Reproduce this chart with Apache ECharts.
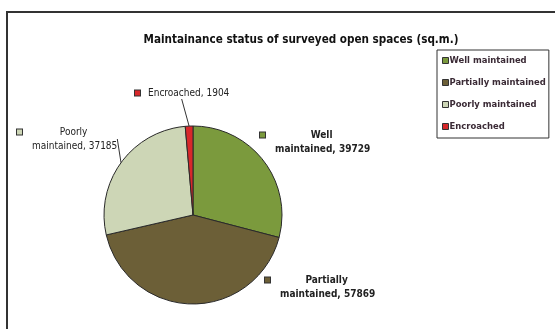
<!DOCTYPE html>
<html>
<head>
<meta charset="utf-8">
<script src="https://cdn.jsdelivr.net/npm/echarts@6/dist/echarts.min.js"></script>
<style>html,body{margin:0;padding:0;background:#fff;}#c{width:555px;height:329px;}</style>
</head>
<body>
<div id="c"></div>
<script>
// ---- data ----
const categories = ['Well maintained', 'Partially maintained', 'Poorly maintained', 'Encroached'];
const values = [39729, 57869, 37185, 1904];
const titleText = 'Maintainance status of surveyed open spaces (sq.m.)';

// ---- styles ----
const colors = ['#7b9a3d', '#6c5f37', '#cdd6b6', '#d8282a'];
const FONT = '"DejaVu Sans Condensed", "DejaVu Sans", sans-serif';
const ST = 'condensed';
const labelPos = [ [260, 128], [265, 273], [17, 125], [135, 86] ];
const labelBold = [true, true, false, false];
const showLeader = [false, false, true, true];

const rich = { g: { width: 8 }, g2: { width: 15 } };
colors.forEach((c, i) => {
  rich['sq' + i] = { width: 5, height: 5, backgroundColor: c, borderColor: '#333', borderWidth: 1, align: 'left' };
  rich['t' + i] = { fontFamily: FONT, fontStyle: ST, fontSize: 10, fontWeight: labelBold[i] ? 'bold' : 'normal', color: '#222', align: 'center', lineHeight: 14 };
  rich['l' + i] = { fontFamily: FONT, fontStyle: ST, fontSize: 10, fontWeight: labelBold[i] ? 'bold' : 'normal', color: '#222', lineHeight: 14 };
});

const chart = echarts.init(document.getElementById('c'), null, { renderer: 'canvas' });
chart.setOption({
  animation: false,
  backgroundColor: '#fff',
  title: {
    text: titleText,
    left: 296, top: 29, textAlign: 'center',
    textStyle: { fontFamily: FONT, fontStyle: ST, fontSize: 11.6, fontWeight: 'bold', color: '#111' }
  },
  legend: {
    orient: 'vertical',
    left: 437, top: 50,
    data: categories,
    itemWidth: 6, itemHeight: 6, itemGap: 13,
    icon: 'rect',
    padding: [6, 3, 7, 5],
    borderColor: '#333', borderWidth: 1,
    textStyle: { fontFamily: FONT, fontStyle: ST, fontSize: 9.4, fontWeight: 'bold', color: '#3a2a35', padding: [0, 0, 0, -4] },
    itemStyle: { borderColor: '#333', borderWidth: 1 }
  },
  graphic: [{
    type: 'polyline',
    shape: { points: [[7, 329], [7, 12], [555, 12]] },
    style: { stroke: '#333', lineWidth: 2, fill: null },
    silent: true
  }],
  series: [{
    type: 'pie',
    center: [193, 215],
    radius: 89,
    startAngle: 90,
    clockwise: true,
    itemStyle: { borderColor: '#2a2a2a', borderWidth: 1 },
    data: categories.map((n, i) => ({
      name: n, value: values[i],
      itemStyle: { color: colors[i] },
      labelLine: { show: showLeader[i], lineStyle: { color: '#333', width: 1 } }
    })),
    label: {
      show: true,
      position: 'outside',
      overflow: 'none',
      edgeDistance: 0,
      rich: rich,
      formatter: p => {
        const i = p.dataIndex;
        const name = p.name;
        const sp = name.indexOf(' ');
        if (i === 3) return '{sq' + i + '|}{g|}{l' + i + '|' + name + ', ' + p.value + '}';
        const a = name.slice(0, sp), b = name.slice(sp + 1);
        return '{sq' + i + '|}{g|}{t' + i + '|' + a + '}\n{g2|}{l' + i + '|' + b + ', ' + p.value + '}';
      }
    },
    labelLine: { length: 3, length2: 0 },
    labelLayout: p => ({ x: labelPos[p.dataIndex][0], y: labelPos[p.dataIndex][1], align: 'left', verticalAlign: 'top' })
  }]
});
</script>
</body>
</html>
